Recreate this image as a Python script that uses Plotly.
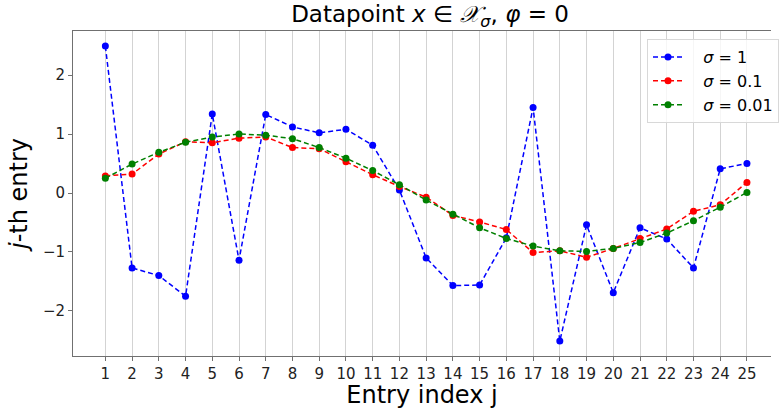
import plotly.graph_objects as go

# Entry indices and the three noise levels
entry_index = list(range(1, 26))

sigma_1 = [2.49, -1.27, -1.40, -1.75, 1.34, -1.14, 1.33, 1.12, 1.02, 1.08,
           0.81, 0.05, -1.10, -1.57, -1.56, -0.76, 1.45, -2.51, -0.54, -1.69,
           -0.59, -0.78, -1.27, 0.41, 0.50]
sigma_01 = [0.29, 0.32, 0.66, 0.87, 0.85, 0.93, 0.95, 0.77, 0.75, 0.53,
            0.31, 0.11, -0.07, -0.38, -0.49, -0.62, -1.01, -0.98, -1.09, -0.94,
            -0.77, -0.61, -0.31, -0.20, 0.18]
sigma_001 = [0.25, 0.49, 0.69, 0.86, 0.95, 1.00, 0.98, 0.92, 0.77, 0.59,
             0.38, 0.14, -0.12, -0.36, -0.59, -0.77, -0.90, -0.98, -0.99, -0.94,
             -0.84, -0.68, -0.47, -0.24, 0.01]

PAD = "&nbsp;" * 3
series = [
    (PAD + "<i>σ</i> = 1", sigma_1, "blue"),
    (PAD + "<i>σ</i> = 0.1", sigma_01, "red"),
    (PAD + "<i>σ</i> = 0.01", sigma_001, "green"),
]

FONT = "DejaVu Sans"

fig = go.Figure()
for name, values, color in series:
    fig.add_trace(go.Scatter(
        x=entry_index, y=values, name=name, mode="lines+markers",
        line=dict(color=color, width=1.5, dash="5px,3px"),
        marker=dict(color=color, size=7),
    ))

fig.update_layout(
    width=779, height=409,
    margin=dict(l=73, r=0, t=31, b=53),
    paper_bgcolor="white", plot_bgcolor="white",
    font=dict(family=FONT, color="#222222", size=16),
    title=dict(
        text="Datapoint <i>x</i> ∈ <i>𝒳</i><sub><i>σ</i></sub>, <i>φ</i> = 0",
        x=(430 / 779), xanchor="center", y=0.985, yanchor="top",
        font=dict(size=23, family=FONT, color="black"),
    ),
    legend=dict(
        x=0.8225, xanchor="left", y=0.975, yanchor="top",
        bgcolor="rgba(255,255,255,0.8)", bordercolor="#d8d8d8", borderwidth=1,
        font=dict(size=16, family=FONT, color="black"),
        itemwidth=30, tracegroupgap=2,
    ),
    showlegend=True,
)

fig.update_xaxes(
    range=[-0.21, 25.9],
    tickmode="array", tickvals=entry_index,
    ticktext=[str(v) for v in entry_index],
    showgrid=True, gridcolor="#d3d3d3", gridwidth=1,
    showline=True, linecolor="#707070", linewidth=1, mirror=True,
    ticks="outside", ticklen=4, tickcolor="#707070",
    tickfont=dict(size=15, family=FONT, color="#222222"),
    zeroline=False,
    title=dict(text="Entry index j", font=dict(size=24, family=FONT, color="black"),
               standoff=10),
)
fig.update_yaxes(
    range=[-2.763, 2.746],
    tickvals=[-2, -1, 0, 1, 2],
    showgrid=False,
    showline=True, linecolor="#707070", linewidth=1,
    ticks="outside", ticklen=4, tickcolor="#707070",
    tickfont=dict(size=15, family=FONT, color="#222222"),
    zeroline=False,
    title=dict(text="<i>j</i>-th entry", font=dict(size=24, family=FONT, color="black"),
               standoff=8),
)

fig.write_html("out.html")
